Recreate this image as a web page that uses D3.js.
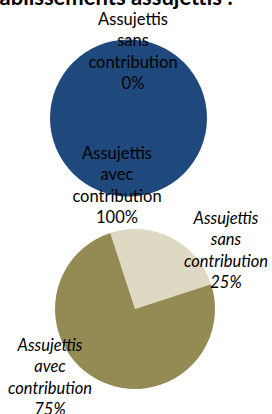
<!DOCTYPE html>
<html>
<head>
<meta charset="utf-8">
<script src="https://cdn.jsdelivr.net/npm/d3@7"></script>
<style>
  body { margin: 0; background: #fff; }
  svg { display: block; font-family: Lato, "Open Sans", sans-serif; }
</style>
</head>
<body>
<svg id="chart" width="272" height="414"></svg>
<script>
// data
const titleText = "Établissements assujettis :";
const categories = ["Assujettis sans contribution", "Assujettis avec contribution"];
const labelLines = [["Assujettis", "sans", "contribution"], ["Assujettis", "avec", "contribution"]];
const pieAValues = [0, 100];
const pieBValues = [25, 75];

const svg = d3.select("#chart");

svg.append("text")
  .attr("x", 233).attr("y", 5)
  .attr("text-anchor", "end")
  .attr("font-weight", "bold")
  .attr("font-size", 22)
  .text(titleText);

function drawPie(cfg) {
  const g = svg.append("g").attr("transform", `translate(${cfg.cx},${cfg.cy})`);
  const pie = d3.pie().sort(null).startAngle(cfg.start).endAngle(cfg.start + 2 * Math.PI);
  const arc = d3.arc().innerRadius(0).outerRadius(cfg.r);
  const arcs = pie(cfg.values);
  g.selectAll("path").data(arcs).enter().append("path")
    .attr("d", arc)
    .attr("fill", (d, i) => cfg.colors[i]);

  cfg.labels.forEach((pos, i) => {
    const lines = labelLines[i].concat([cfg.values[i] + "%"]);
    const t = svg.append("text")
      .attr("text-anchor", "middle")
      .attr("font-size", 16.5)
      .attr("font-style", cfg.italic ? "italic" : "normal")
      .attr("fill", "#000");
    lines.forEach((s, j) => {
      t.append("tspan").attr("x", pos[0]).attr("y", pos[1] + j * 21.3).text(s);
    });
  });
}

drawPie({
  cx: 128.5, cy: 118, r: 78.5, start: 0,
  values: pieAValues,
  colors: ["#DDD9C3", "#1F497D"],
  labels: [[133, 25], [117, 159]],
  italic: false
});

drawPie({
  cx: 135, cy: 309, r: 80, start: -18 * Math.PI / 180,
  values: pieBValues,
  colors: ["#DDD9C3", "#948A54"],
  labels: [[226, 224], [50, 351]],
  italic: true
});
</script>
</body>
</html>
